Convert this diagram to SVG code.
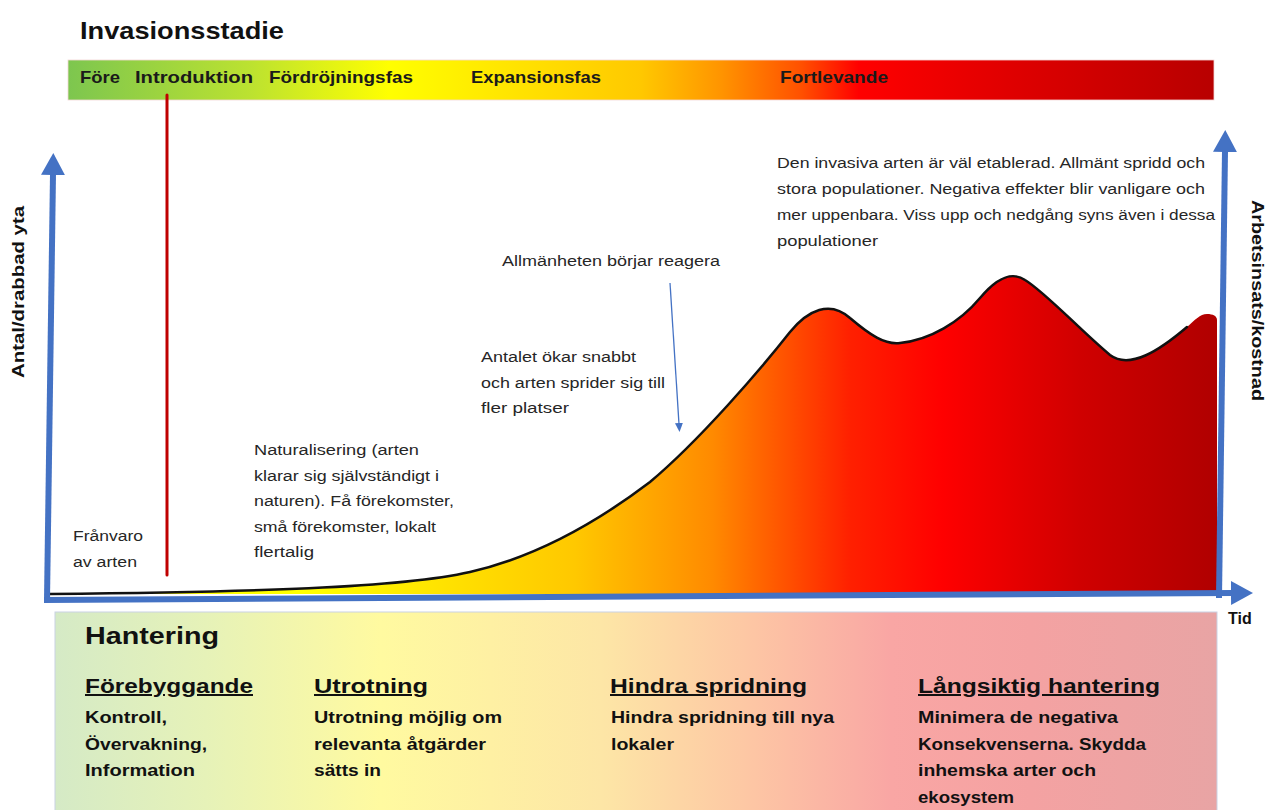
<svg xmlns="http://www.w3.org/2000/svg" width="1267" height="810" viewBox="0 0 1267 810">
<style>
text{font-family:"Liberation Sans",Arial,sans-serif}
.title{font-size:24px;font-weight:bold;fill:#111}
.band{font-size:17px;font-weight:bold;fill:#1a1a1a}
.ann{font-size:14px;fill:#262626}
.axl{font-size:16px;font-weight:bold;fill:#111}
.hd{font-size:24px;font-weight:bold;fill:#111}
.sub{font-size:20px;font-weight:bold;fill:#111;text-decoration:underline}
.body{font-size:16px;font-weight:bold;fill:#111}
.axis{stroke:#4472c4;stroke-width:6;fill:none}
</style>
<defs>
<linearGradient id="bandG" gradientUnits="userSpaceOnUse" x1="68" y1="0" x2="1214" y2="0">
<stop offset="0" stop-color="#7dc64f"/>
<stop offset="0.16" stop-color="#bce230"/>
<stop offset="0.28" stop-color="#ffff00"/>
<stop offset="0.40" stop-color="#ffe100"/>
<stop offset="0.50" stop-color="#ffc800"/>
<stop offset="0.57" stop-color="#ff9400"/>
<stop offset="0.64" stop-color="#ff5000"/>
<stop offset="0.69" stop-color="#ff0000"/>
<stop offset="0.82" stop-color="#e00000"/>
<stop offset="1" stop-color="#b80000"/>
</linearGradient>
<linearGradient id="curveG" gradientUnits="userSpaceOnUse" x1="300" y1="0" x2="1217" y2="0">
<stop offset="0" stop-color="#ffff00"/>
<stop offset="0.3" stop-color="#ffc800"/>
<stop offset="0.45" stop-color="#ff8a00"/>
<stop offset="0.6" stop-color="#ff2000"/>
<stop offset="0.7" stop-color="#ff0000"/>
<stop offset="0.85" stop-color="#d00000"/>
<stop offset="1" stop-color="#b00000"/>
</linearGradient>
<linearGradient id="botG" gradientUnits="userSpaceOnUse" x1="55" y1="0" x2="1217" y2="0">
<stop offset="0" stop-color="#d5eac6"/>
<stop offset="0.13" stop-color="#e6f2b8"/>
<stop offset="0.28" stop-color="#fffaa0"/>
<stop offset="0.47" stop-color="#fde6a6"/>
<stop offset="0.6" stop-color="#fdc6a4"/>
<stop offset="0.72" stop-color="#f9a6a4"/>
<stop offset="0.84" stop-color="#f4a2a2"/>
<stop offset="1" stop-color="#e8a4a4"/>
</linearGradient>
<marker id="axArrow" markerUnits="userSpaceOnUse" markerWidth="24" markerHeight="24" refX="1" refY="12" orient="auto">
<path d="M0 0 L22 12 L0 24 Z" fill="#4472c4"/>
</marker>
<marker id="smArrow" markerUnits="userSpaceOnUse" markerWidth="10" markerHeight="8" refX="1" refY="4" orient="auto">
<path d="M0 0 L9 4 L0 8 Z" fill="#4472c4"/>
</marker>
</defs>
<rect width="1267" height="810" fill="#ffffff"/>

<g id="title">
<text class="title" x="80" y="39" textLength="204" lengthAdjust="spacingAndGlyphs">Invasionsstadie</text>
</g>

<g id="stage-band">
<rect x="68" y="60" width="1146" height="40" fill="url(#bandG)" stroke="#f2d6d6" stroke-width="0.8"/>
<text class="band" x="80" y="83" textLength="40" lengthAdjust="spacingAndGlyphs">Före</text>
<text class="band" x="135" y="83" textLength="118" lengthAdjust="spacingAndGlyphs">Introduktion</text>
<text class="band" x="269" y="83" textLength="144" lengthAdjust="spacingAndGlyphs">Fördröjningsfas</text>
<text class="band" x="471" y="83" textLength="130" lengthAdjust="spacingAndGlyphs">Expansionsfas</text>
<text class="band" x="780" y="83" textLength="108" lengthAdjust="spacingAndGlyphs">Fortlevande</text>
</g>

<g id="curve">
<path d="M50 594 C250 592,400 588,470 572 C540 556,600 520,650 482 C700 440,760 370,790 332 C808 310,830 300,850 318 C870 335,885 345,900 343 C930 340,960 322,980 298 C995 280,1010 270,1025 280 C1045 292,1080 330,1110 355 C1130 370,1160 350,1187 327 C1195 320,1200 314,1207 314 C1213 314,1217 316,1217 320 L1217 594 Z" fill="url(#curveG)"/>
<path d="M50 594 C250 592,400 588,470 572 C540 556,600 520,650 482 C700 440,760 370,790 332 C808 310,830 300,850 318 C870 335,885 345,900 343 C930 340,960 322,980 298 C995 280,1010 270,1025 280 C1045 292,1080 330,1110 355 C1130 370,1160 350,1187 327" fill="none" stroke="#111" stroke-width="2.5" stroke-linecap="round"/>
</g>

<g id="connectors">
<line x1="167" y1="95" x2="167" y2="575" stroke="#c00000" stroke-width="3" stroke-linecap="round"/>
<line class="axis" x1="47" y1="600" x2="53" y2="174" marker-end="url(#axArrow)"/>
<line class="axis" x1="1219" y1="598" x2="1225" y2="151" marker-end="url(#axArrow)"/>
<line class="axis" x1="44" y1="600" x2="1232" y2="593" marker-end="url(#axArrow)"/>
<line x1="670" y1="283" x2="679" y2="424" stroke="#4472c4" stroke-width="1.3" marker-end="url(#smArrow)"/>
</g>

<g id="axis-labels">
<text class="axl" transform="translate(24,378) rotate(-90)" textLength="172" lengthAdjust="spacingAndGlyphs">Antal/drabbad yta</text>
<text class="axl" transform="translate(1252,200) rotate(90)" textLength="201" lengthAdjust="spacingAndGlyphs">Arbetsinsats/kostnad</text>
<text class="axl" x="1228" y="624">Tid</text>
</g>

<g id="ann-franvaro">
<text class="ann" x="73" y="541" textLength="70" lengthAdjust="spacingAndGlyphs">Frånvaro</text>
<text class="ann" x="73" y="567" textLength="64" lengthAdjust="spacingAndGlyphs">av arten</text>
</g>

<g id="ann-natur">
<text class="ann" x="254" y="455" textLength="165" lengthAdjust="spacingAndGlyphs">Naturalisering (arten</text>
<text class="ann" x="254" y="481" textLength="185" lengthAdjust="spacingAndGlyphs">klarar sig självständigt i</text>
<text class="ann" x="254" y="506" textLength="200" lengthAdjust="spacingAndGlyphs">naturen). Få förekomster,</text>
<text class="ann" x="254" y="532" textLength="182" lengthAdjust="spacingAndGlyphs">små förekomster, lokalt</text>
<text class="ann" x="254" y="557" textLength="60" lengthAdjust="spacingAndGlyphs">flertalig</text>
</g>

<g id="ann-allman">
<text class="ann" x="502" y="266" textLength="218" lengthAdjust="spacingAndGlyphs">Allmänheten börjar reagera</text>
</g>

<g id="ann-antalet">
<text class="ann" x="481" y="362" textLength="155" lengthAdjust="spacingAndGlyphs">Antalet ökar snabbt</text>
<text class="ann" x="481" y="388" textLength="184" lengthAdjust="spacingAndGlyphs">och arten sprider sig till</text>
<text class="ann" x="481" y="413" textLength="88" lengthAdjust="spacingAndGlyphs">fler platser</text>
</g>

<g id="ann-den">
<text class="ann" x="777" y="168" textLength="428" lengthAdjust="spacingAndGlyphs">Den invasiva arten är väl etablerad. Allmänt spridd och</text>
<text class="ann" x="777" y="194" textLength="428" lengthAdjust="spacingAndGlyphs">stora populationer. Negativa effekter blir vanligare och</text>
<text class="ann" x="777" y="220" textLength="438" lengthAdjust="spacingAndGlyphs">mer uppenbara. Viss upp och nedgång syns även i dessa</text>
<text class="ann" x="777" y="246" textLength="101" lengthAdjust="spacingAndGlyphs">populationer</text>
</g>

<g id="hantering">
<rect x="55" y="612" width="1162" height="205" fill="url(#botG)" stroke="#c9d2e3" stroke-width="1"/>
<text class="hd" x="85" y="644" textLength="134" lengthAdjust="spacingAndGlyphs">Hantering</text>
</g>

<g id="forebyggande">
<text class="sub" x="85" y="693" textLength="168" lengthAdjust="spacingAndGlyphs">Förebyggande</text>
<text class="body" x="85" y="723" textLength="82" lengthAdjust="spacingAndGlyphs">Kontroll,</text>
<text class="body" x="85" y="750" textLength="122" lengthAdjust="spacingAndGlyphs">Övervakning,</text>
<text class="body" x="85" y="776" textLength="110" lengthAdjust="spacingAndGlyphs">Information</text>
</g>

<g id="utrotning">
<text class="sub" x="314" y="693" textLength="114" lengthAdjust="spacingAndGlyphs">Utrotning</text>
<text class="body" x="314" y="723" textLength="188" lengthAdjust="spacingAndGlyphs">Utrotning möjlig om</text>
<text class="body" x="314" y="750" textLength="172" lengthAdjust="spacingAndGlyphs">relevanta åtgärder</text>
<text class="body" x="314" y="776" textLength="67" lengthAdjust="spacingAndGlyphs">sätts in</text>
</g>

<g id="hindra">
<text class="sub" x="610" y="693" textLength="197" lengthAdjust="spacingAndGlyphs">Hindra spridning</text>
<text class="body" x="611" y="723" textLength="223" lengthAdjust="spacingAndGlyphs">Hindra spridning till nya</text>
<text class="body" x="611" y="750" textLength="63" lengthAdjust="spacingAndGlyphs">lokaler</text>
</g>

<g id="langsiktig">
<text class="sub" x="918" y="693" textLength="242" lengthAdjust="spacingAndGlyphs">Långsiktig hantering</text>
<text class="body" x="918" y="723" textLength="200" lengthAdjust="spacingAndGlyphs">Minimera de negativa</text>
<text class="body" x="918" y="750" textLength="228" lengthAdjust="spacingAndGlyphs">Konsekvenserna. Skydda</text>
<text class="body" x="918" y="776" textLength="178" lengthAdjust="spacingAndGlyphs">inhemska arter och</text>
<text class="body" x="918" y="803" textLength="96" lengthAdjust="spacingAndGlyphs">ekosystem</text>
</g>
</svg>
